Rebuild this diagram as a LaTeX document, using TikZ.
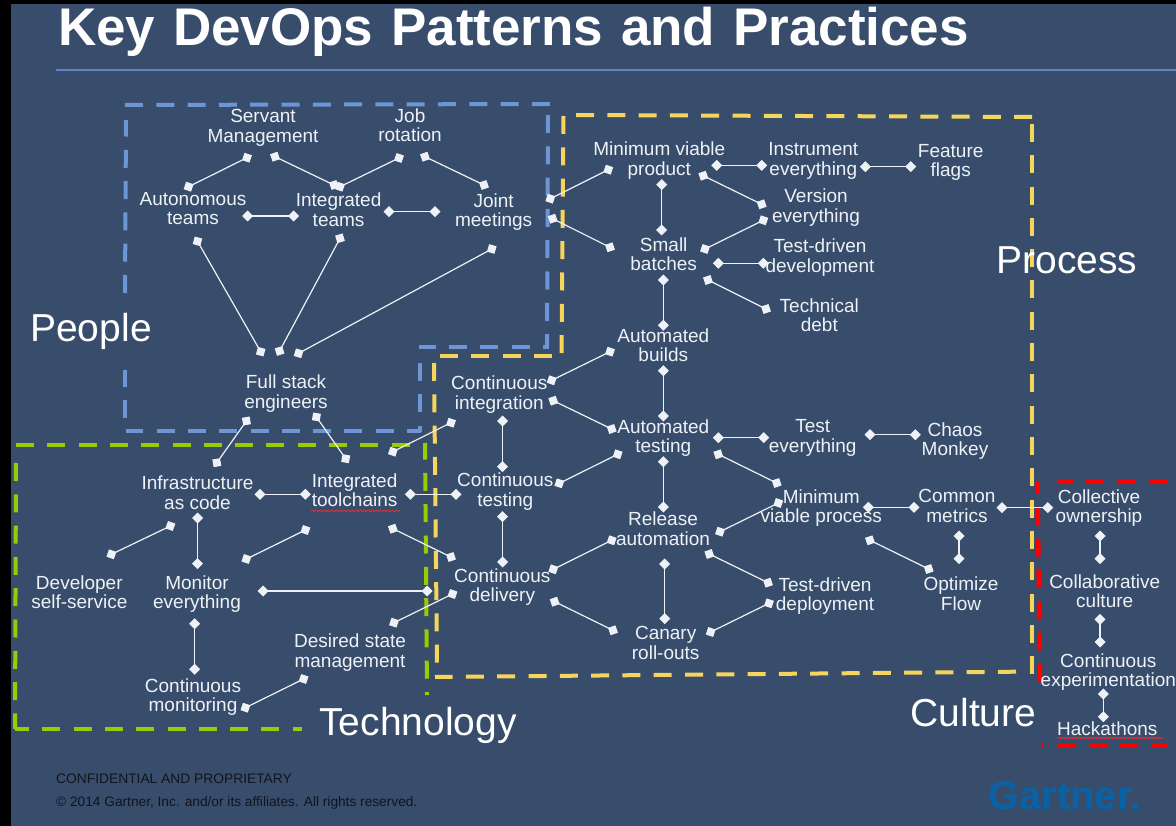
\documentclass[tikz,border=0pt]{standalone}
\usepackage{fontspec}
\setmainfont{Liberation Sans}
\usetikzlibrary{arrows.meta,decorations.pathmorphing}
\definecolor{slide}{HTML}{384C6B}
\definecolor{inktext}{HTML}{EEF2F7}
\definecolor{rulec}{HTML}{5F86C4}
\definecolor{boxblue}{HTML}{6C96D6}
\definecolor{boxyellow}{HTML}{F6D55C}
\definecolor{boxgreen}{HTML}{99CC00}
\definecolor{boxred}{HTML}{FF0000}
\definecolor{logoblue}{HTML}{0A62A6}
\definecolor{footc}{HTML}{10151C}
\tikzset{
  txt/.style={text=inktext,align=center,inner sep=0pt,yshift=-2pt,font=\fontsize{19}{19.6}\selectfont,
    execute at begin node=\strut,execute at end node=\strut},
  bigtxt/.style={text=white,inner sep=0pt,font=\fontsize{39}{42}\selectfont},
  foot/.style={text=footc,inner sep=0pt,anchor=west},
  conn/.style={draw=inktext,line width=1.2pt,
    {Diamond[length=11pt,width=11pt]}-{Diamond[length=11pt,width=11pt]},
    shorten >=-5.5pt,shorten <=-5.5pt},
  dashbox/.style={line width=4pt,dash pattern=on 18pt off 13.3pt},
  squiggle/.style={draw=boxred!85!white,line width=.8pt,decorate,decoration={snake,amplitude=.9pt,segment length=4pt}}
}
\newcommand{\conlink}[3]{\coordinate (#1a) at (#2); \coordinate (#1b) at (#3); \draw[conn] (#1a) -- (#1b);}
\begin{document}
\begin{tikzpicture}[x=1pt,y=-1pt]
\useasboundingbox (0,0) rectangle (1176,826);
\fill[slide] (0,0) rectangle (1176,826);
\fill[black] (0,0) rectangle (10.7,826);
\fill[black] (0,0) rectangle (1176,4);

% title and rule
\node[anchor=base west,inner sep=0pt,text=white,font=\fontsize{53}{56}\selectfont\bfseries] (title) at (58,46) {\spaceskip=17.8pt Key DevOps Patterns and Practices};
\coordinate (ruleL) at (56,70); \coordinate (ruleR) at (1176,70);
\draw[rulec,line width=1.4pt] (ruleL) -- (ruleR);

% dashed regions: blue
\draw[dashbox,boxblue] (125,105) -- (550,104);
\draw[dashbox,boxblue] (548,115) -- (547,347);
\draw[dashbox,boxblue,dash phase=12pt] (549,347) -- (419,347);
\draw[dashbox,boxblue] (420,363) -- (420,432);
\draw[dashbox,boxblue,dash phase=4pt] (421,431) -- (126,431);
\draw[dashbox,boxblue] (125,418) -- (125,370);
\draw[dashbox,boxblue] (125,293) -- (126,120);
% yellow
\draw[dashbox,boxyellow] (576,115) -- (1032,117);
\draw[dashbox,boxyellow] (1032,124) -- (1032,674);
\draw[dashbox,boxyellow] (1016,671.7) -- (435,677);
\draw[dashbox,boxyellow] (434,363) -- (437,663);
\draw[dashbox,boxyellow] (440,356) -- (552,356);
\draw[dashbox,boxyellow] (563.5,116) -- (561.5,353);
% green
\draw[dashbox,boxgreen,dash phase=15pt] (427,695) -- (425,443);
\draw[dashbox,boxgreen] (16,445) -- (425,445);
\draw[dashbox,boxgreen] (16,463) -- (15,729);
\draw[dashbox,boxgreen,dash phase=4pt] (15,729) -- (302,729);
% red
\draw[dashbox,boxred,line width=4.4pt] (1167,481.7) -- (1057,481.7);
\draw[dashbox,boxred,line width=4.4pt,dash phase=5pt] (1037.5,481) -- (1040,682);
\draw[dashbox,boxred,line width=4.4pt,dash phase=15pt] (1041,746) -- (1168,746);

% connectors: people
\conlink{c1}{247,157.7}{188.6,186.7}
\conlink{c2}{275,156.7}{334,185}
\conlink{c3}{399,158}{340,186.7}
\conlink{c4}{425,156.7}{484,185}
\conlink{c5}{247.5,216}{293.6,216}
\conlink{c6}{389,211.7}{435,211.7}
\conlink{c7}{197.5,241.3}{260.7,351.7}
\conlink{c8}{340,238.3}{279.6,351}
\conlink{c9}{491.8,249}{298.6,353.3}
\conlink{c10}{246.4,421}{216.8,462.7}
\conlink{c11}{316.4,417}{345.7,458.7}
\conlink{c12}{451,422.7}{392.9,451.7}
% technology
\conlink{c13}{260,494.3}{305.4,494.3}
\conlink{c14}{410.4,494.3}{456,494.3}
\conlink{c15}{170.4,526}{111.4,554.3}
\conlink{c16}{197.5,518}{197.5,563.7}
\conlink{c17}{305.4,530}{246.4,559}
\conlink{c18}{392.9,528.7}{451,557}
\conlink{c19}{263.2,591}{427,591}
\conlink{c20}{452.5,594}{394,622.7}
\conlink{c21}{194.6,623.7}{194.6,669.3}
\conlink{c22}{303.6,679}{245.4,707.7}
\conlink{c23}{502.5,421}{502.5,466.7}
\conlink{c24}{502.5,516.7}{502.5,562}
% process, lower
\conlink{c25}{610,351.7}{551.7,380.3}
\conlink{c26}{553.3,400.7}{611.7,429}
\conlink{c27}{663.3,370.7}{663.3,416}
\conlink{c28}{617.7,454.3}{559.3,483.3}
\conlink{c29}{718.3,437.7}{763.7,437.7}
\conlink{c30}{870,434.7}{915.3,434.7}
\conlink{c31}{718.3,454.3}{776.7,483}
\conlink{c32}{663.3,461.7}{663.3,507}
\conlink{c33}{778.3,503}{720,531.7}
\conlink{c34}{868.3,507.3}{914,507.3}
\conlink{c35}{611.7,540.3}{553.3,569.3}
\conlink{c36}{709.3,554}{768,582.7}
\conlink{c37}{664.7,564}{664.7,618.7}
\conlink{c38}{554.7,601.7}{613,630.3}
\conlink{c39}{769,603.3}{710.7,632}
\conlink{c40}{870,540.3}{928.7,569}
% culture
\conlink{c41}{1002,507.7}{1047.7,507.7}
\conlink{c42}{959,536}{959,558.7}
\conlink{c43}{1100,536}{1100,558.7}
\conlink{c44}{1100,619.3}{1100,642}
\conlink{c45}{1103.3,694}{1103.3,716.7}
% process, upper
\conlink{c46}{608.3,169.7}{550.3,198.7}
\conlink{c47}{552.7,218.7}{610,247.3}
\conlink{c48}{661.7,184.7}{661.7,230}
\conlink{c49}{716.7,165.3}{761.7,165.3}
\conlink{c50}{865.3,166.7}{910.7,166.7}
\conlink{c51}{703.3,175.7}{761.7,204.3}
\conlink{c52}{763.3,220.3}{705,249}
\conlink{c53}{718.3,263.3}{763.3,263.3}
\conlink{c54}{708,280}{766,309}
\conlink{c55}{663.3,280}{663.3,325.3}

% labels: people
\node[txt] (servant) at (263,127) {Servant\\Management};
\node[txt] (job) at (410,126) {Job\\rotation};
\node[txt] (autonomous) at (193,209.5) {Autonomous\\teams};
\node[txt] (integrated) at (338.6,210.5) {Integrated\\teams};
\node[txt] (joint) at (493.6,211) {Joint\\meetings};
\node[txt] (fullstack) at (286,392.5) {Full stack\\engineers};
% technology
\node[txt] (infra) at (197.5,493.7) {Infrastructure\\as code};
\node[txt] (toolchains) at (354.6,491) {Integrated\\toolchains};
\node[txt] (developer) at (79.3,593) {Developer\\self-service};
\node[txt] (monitor) at (197,593) {Monitor\\everything};
\node[txt] (desired) at (350,651.3) {Desired state\\management};
\node[txt] (contmon) at (193,696) {Continuous\\monitoring};
% process
\node[txt] (contint) at (499.3,393.7) {Continuous\\integration};
\node[txt] (conttest) at (505.3,490.5) {Continuous\\testing};
\node[txt] (contdel) at (502.3,586) {Continuous\\delivery};
\node[txt] (mvprod) at (659.3,159.7) {Minimum viable\\product};
\node[txt] (instrument) at (813.3,160) {Instrument\\everything};
\node[txt] (feature) at (950.7,161.3) {Feature\\flags};
\node[txt] (version) at (816,206.3) {Version\\everything};
\node[txt] (small) at (663.7,255) {Small\\batches};
\node[txt] (tdd) at (820,256.5) {Test-driven\\development};
\node[txt] (techdebt) at (819.3,316) {Technical\\debt};
\node[txt] (autobuilds) at (663.3,346) {Automated\\builds};
\node[txt] (autotest) at (663.3,437) {Automated\\testing};
\node[txt] (testevery) at (812.7,437) {Test\\everything};
\node[txt] (chaos) at (955,440) {Chaos\\Monkey};
\node[txt] (release) at (663,529.5) {Release\\automation};
\node[txt] (mvproc) at (821.3,507) {Minimum\\viable process};
\node[txt] (common) at (957,507) {Common\\metrics};
\node[txt] (optimize) at (961,594.7) {Optimize\\Flow};
\node[txt] (tddeploy) at (825,595) {Test-driven\\deployment};
\node[txt] (canary) at (665.7,644) {Canary\\roll-outs};
% culture
\node[txt] (collective) at (1099,507) {Collective\\ownership};
\node[txt] (collab) at (1104.7,592) {Collaborative\\culture};
\node[txt] (contexp) at (1108.3,671) {Continuous\\experimentation};
\node[txt] (hack) at (1107.3,729.3) {Hackathons};

% spell-check squiggles
\coordinate (sqa) at (311,510.8); \coordinate (sqb) at (400,510.8);
\draw[squiggle] (sqa) -- (sqb);
\coordinate (sqc) at (1057,738); \coordinate (sqd) at (1163,738);
\draw[squiggle] (sqc) -- (sqd);

% region titles
\node[bigtxt] (people) at (91,331) {People};
\node[bigtxt] (process) at (1067,260) {Process};
\node[bigtxt] (technology) at (418,725) {Technology};
\node[bigtxt] (culture) at (973.5,712.5) {Culture};

% footer
\node[foot,font=\fontsize{13.8}{15}\selectfont] (conf) at (56,778.7) {CONFIDENTIAL AND PROPRIETARY};
\node[foot,font=\fontsize{13.7}{15}\selectfont] (copy) at (56,802.7) {© 2014 Gartner, Inc. and/or its affiliates. All rights reserved.};
\node[anchor=base west,inner sep=0pt,text=logoblue,font=\fontsize{40}{42}\selectfont\bfseries] (logo) at (988,809) {Gartner.};
\end{tikzpicture}
\end{document}
